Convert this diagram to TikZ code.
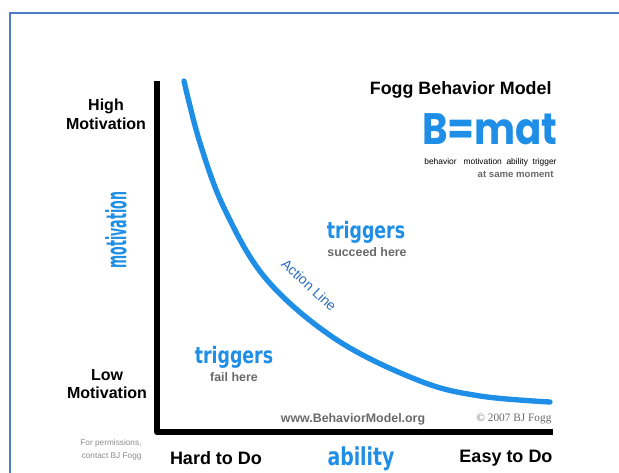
\documentclass[tikz,border=0pt]{standalone}
\usepackage{fontspec}
\setmainfont{Liberation Sans}
\newfontfamily\condfont[FakeStretch=0.85]{DejaVu Sans Condensed Bold}
\newfontfamily\condnarrow[FakeStretch=0.5]{DejaVu Sans Condensed Bold}
\newfontfamily\bmatfont[FakeStretch=0.88]{Poppins}
\newfontfamily\copyfont{Liberation Serif}
\definecolor{fbblue}{RGB}{30,142,230}
\definecolor{lineblue}{RGB}{45,110,190}
\definecolor{framebl}{RGB}{79,124,200}
\definecolor{txtgray}{RGB}{105,105,105}
\definecolor{ltgray}{RGB}{140,140,140}

\tikzset{every picture/.style={line width=0.75pt}}
\tikzset{
  bigword/.style={inner sep=0.75pt, text=fbblue, font=\condfont\fontsize{17}{17}\selectfont},
  axislabel/.style={inner sep=0.75pt, font=\bfseries\fontsize{13.5}{15}\selectfont},
  sidelabel/.style={inner sep=0.75pt, align=center, font=\bfseries\fontsize{12}{14}\selectfont},
  graynote/.style={inner sep=0.75pt, text=txtgray, font=\bfseries\fontsize{9.3}{11}\selectfont}
}

\begin{document}
\begin{tikzpicture}[x=0.75pt,y=0.75pt,yscale=-1,xscale=1]
\useasboundingbox (0,0) rectangle (619,473);

%Frame
\draw [color=framebl, line width=1.5]  (619,13) -- (10,13) -- (10,473) ;
%Axes
\draw [line width=4.5, line join=round]  (157,81) -- (157,432) -- (553,432) ;
%Action Line curve
\draw [color=fbblue, line width=4, line cap=round]  plot [smooth, tension=0.6] coordinates {(184,81) (200,143) (225,210) (267,280) (337,340) (420,381) (480,396) (550,402)} ;

% Text Node
\draw (553,90) node [anchor=east][inner sep=0.75pt]  [font=\bfseries\fontsize{13.4}{15}\selectfont]  (title) {Fogg Behavior Model};
% Text Node
\draw (558,145) node [anchor=base east][inner sep=0pt]  [text=fbblue, font=\bmatfont\bfseries\fontsize{33}{33}\selectfont]  (bmat) {B=mat};
% Text Node
\draw (558,162) node [anchor=east][inner sep=0.75pt]  [font=\fontsize{6.3}{7}\selectfont]  (bmatkey) {behavior\ \ \ motivation\ \ ability\ \ trigger};
% Text Node
\draw (555,174) node [anchor=east][inner sep=0.75pt]  [text=txtgray, font=\bfseries\fontsize{7.2}{8}\selectfont]  (moment) {at same moment};
% Text Node
\draw (106,114) node [sidelabel]  (highmot) {High\\Motivation};
% Text Node
\draw (107,384) node [sidelabel]  (lowmot) {Low\\Motivation};
% Text Node
\draw (116,230) node [bigword, rotate=90, font=\condnarrow\fontsize{21}{21}\selectfont]  (motivation) {motivation};
% Text Node
\draw (143,450) node [anchor=east][inner sep=0.75pt]  [text=ltgray, align=right, font=\fontsize{6.2}{10}\selectfont]  (permit) {For permissions,\\contact BJ Fogg};
% Text Node
\draw (216,458) node [axislabel]  (hard) {Hard to Do};
% Text Node
\draw (361,459) node [bigword, font=\condfont\fontsize{18.5}{18.5}\selectfont]  (ability) {ability};
% Text Node
\draw (506,458) node [axislabel]  (easy) {Easy to Do};
% Text Node
\draw (366,232) node [bigword]  (trigup) {triggers};
% Text Node
\draw (367,252) node [graynote]  (succeed) {succeed here};
% Text Node
\draw (234,357) node [bigword]  (trigdown) {triggers};
% Text Node
\draw (234,377) node [graynote]  (fail) {fail here};
% Text Node
\draw (309,285) node [inner sep=0.75pt, rotate=-43]  [text=lineblue, font=\fontsize{10.5}{12}\selectfont]  (actline) {Action Line};
% Text Node
\draw (353,419) node [graynote]  (website) {www.BehaviorModel.org};
% Text Node
\draw (553,419) node [anchor=east][inner sep=0.75pt]  [text=txtgray, font=\copyfont\fontsize{8.5}{10}\selectfont]  (copyr) {\textcopyright\ 2007 BJ Fogg};

\end{tikzpicture}
\end{document}
